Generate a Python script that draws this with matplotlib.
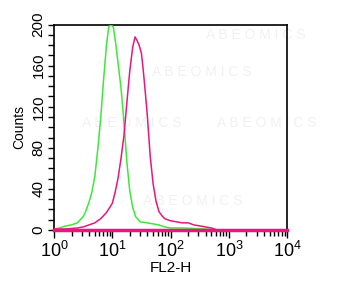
import numpy as np
import matplotlib
matplotlib.use('Agg')
import matplotlib.pyplot as plt
from matplotlib.ticker import LogLocator, MultipleLocator

plt.rcParams['font.family'] = ['Liberation Sans', 'DejaVu Sans']
plt.rcParams['mathtext.default'] = 'regular'

# log10(FL2-H) positions and counts
green_log = [0.0, 0.1, 0.2, 0.3, 0.4, 0.5, 0.55, 0.6, 0.65, 0.7, 0.75, 0.8, 0.85, 0.9,
             0.94, 0.98, 1.02, 1.06, 1.1, 1.15, 1.2, 1.25, 1.3, 1.35, 1.4, 1.48, 1.6,
             1.7, 1.8, 1.9, 2.0, 2.2, 2.4, 2.6, 2.7, 2.8, 3.0, 3.5, 4.0]
green_counts = [1, 2, 4, 5, 7, 13, 19, 27, 37, 52, 78, 108, 146, 180,
                198, 200, 197, 181, 162, 138, 105, 66, 38, 22, 13, 8, 7,
                6, 5, 3, 2, 2, 1.5, 1, 0.5, 0, 0, 0, 0]

red_log = [0.0, 0.2, 0.4, 0.5, 0.6, 0.7, 0.8, 0.9, 1.0, 1.05, 1.1, 1.15, 1.2, 1.25,
           1.3, 1.35, 1.39, 1.42, 1.46, 1.5, 1.53, 1.56, 1.6, 1.65, 1.7, 1.75, 1.8,
           1.85, 1.9, 2.0, 2.1, 2.2, 2.3, 2.4, 2.5, 2.6, 2.7, 2.8, 3.0, 3.5, 4.0]
red_counts = [1, 1, 2, 3, 5, 7, 11, 17, 26, 37, 51, 70, 92, 124,
              155, 178, 188, 185, 180, 172, 156, 138, 112, 72, 45, 28, 18,
              14, 11, 9, 8, 7, 7, 5, 4, 3, 2, 0, 0, 0, 0]

green = '#3ee83a'
magenta = '#e8177f'

fig = plt.figure(figsize=(3.45, 2.89), dpi=100)
ax = fig.add_axes([0.1565, 0.204, 0.676, 0.711])

# faint watermark, kept inside the plot area
wm = 'A B E O M I C S'
for x, y in [(0.65, 0.05), (0.42, 0.23), (0.7, 0.48), (0.12, 0.48), (0.38, 0.86)]:
    ax.text(x, 1 - y, wm, transform=ax.transAxes, color='#f1f1f1',
            fontsize=10, va='center', zorder=0)

ax.plot(10 ** np.array(green_log), green_counts, color=green, lw=1.1, zorder=3)
ax.plot(10 ** np.array(red_log), red_counts, color=magenta, lw=1.1, zorder=4)
ax.axhline(0, color=magenta, lw=2.5, zorder=5, clip_on=False)

ax.set_xscale('log')
ax.set_xlim(1, 1e4)
ax.set_ylim(0, 200)

ax.xaxis.set_major_locator(LogLocator(base=10, numticks=10))
ax.xaxis.set_minor_locator(LogLocator(base=10, subs=np.arange(2, 10), numticks=10))
ax.yaxis.set_major_locator(MultipleLocator(40))
ax.yaxis.set_minor_locator(MultipleLocator(10))

ax.tick_params(axis='both', which='both', direction='out', width=1.0, color='black')
ax.tick_params(axis='x', which='major', length=6, labelsize=13, pad=2)
ax.tick_params(axis='x', which='minor', length=4)
ax.tick_params(axis='y', which='major', length=4, labelsize=11, pad=2)
ax.tick_params(axis='y', which='minor', length=4)
for lab in ax.get_yticklabels():
    lab.set_rotation(90)
    lab.set_va('center')

for s in ax.spines.values():
    s.set_linewidth(1.2)

ax.set_xlabel('FL2-H', fontsize=11, labelpad=0)
ax.set_ylabel('Counts', fontsize=10, labelpad=4)

fig.savefig('out.png', dpi=100)
